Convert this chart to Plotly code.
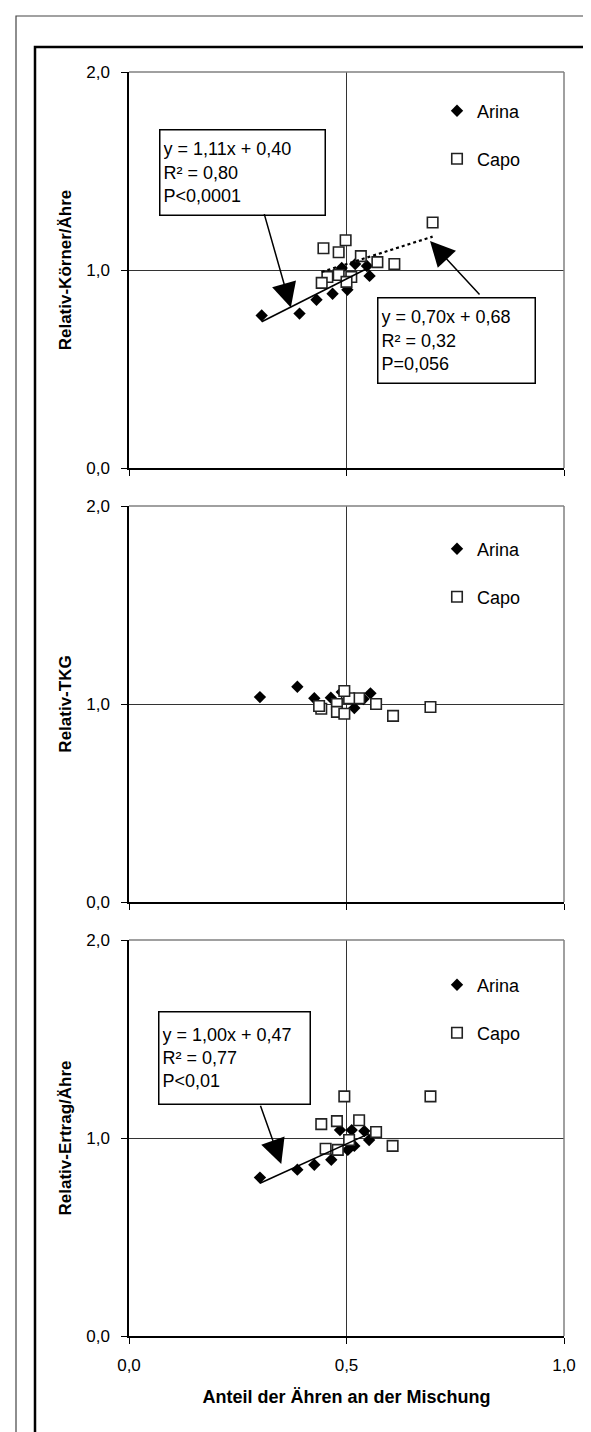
import plotly.graph_objects as go

# ---------------- data ----------------
series_names = ["Arina", "Capo"]

# Panel 1: Relativ-Körner/Ähre
kor_arina_x = [0.305, 0.392, 0.431, 0.468, 0.502, 0.489, 0.520, 0.547, 0.553]
kor_arina_y = [0.77, 0.78, 0.85, 0.88, 0.90, 1.01, 1.03, 1.02, 0.97]
kor_capo_x = [0.698, 0.498, 0.447, 0.482, 0.533, 0.571, 0.610, 0.456, 0.482, 0.511, 0.443, 0.500]
kor_capo_y = [1.24, 1.15, 1.11, 1.09, 1.07, 1.04, 1.03, 0.965, 0.975, 0.965, 0.935, 0.94]

# Panel 2: Relativ-TKG
tkg_arina_x = [0.301, 0.387, 0.426, 0.464, 0.489, 0.518, 0.555, 0.539]
tkg_arina_y = [1.035, 1.087, 1.029, 1.032, 1.06, 0.98, 1.054, 1.025]
tkg_capo_x = [0.693, 0.607, 0.568, 0.529, 0.506, 0.495, 0.478, 0.478, 0.495, 0.442, 0.437]
tkg_capo_y = [0.985, 0.94, 1.00, 1.029, 1.029, 1.066, 1.00, 0.96, 0.951, 0.976, 0.99]

# Panel 3: Relativ-Ertrag/Ähre
ert_arina_x = [0.301, 0.387, 0.426, 0.465, 0.503, 0.518, 0.485, 0.512, 0.541, 0.552]
ert_arina_y = [0.80, 0.84, 0.865, 0.89, 0.94, 0.96, 1.04, 1.04, 1.035, 0.99]
ert_capo_x = [0.495, 0.693, 0.442, 0.478, 0.529, 0.568, 0.606, 0.506, 0.452, 0.480]
ert_capo_y = [1.21, 1.21, 1.07, 1.085, 1.09, 1.03, 0.96, 0.99, 0.946, 0.94]

# regression coefficients shown in the chart (slope, intercept)
fit_kor_arina = [1.11, 0.40]
fit_kor_capo = [0.70, 0.68]
fit_ert_arina = [1.00, 0.47]

fit_text_kor_arina = "y = 1,11x + 0,40<br>R² = 0,80<br>P&lt;0,0001"
fit_text_kor_capo = "y = 0,70x + 0,68<br>R² = 0,32<br>P=0,056"
fit_text_ert_arina = "y = 1,00x + 0,47<br>R² = 0,77<br>P&lt;0,01"

y_tick_vals = [0, 1, 2]
y_tick_text = ["0,0", "1,0", "2,0"]
x_tick_vals = [0, 0.5, 1]
x_tick_text = ["0,0", "0,5", "1,0"]
y_titles = ["Relativ-Körner/Ähre", "Relativ-TKG", "Relativ-Ertrag/Ähre"]
x_title = "Anteil der Ähren an der Mischung"

# ---------------- layout geometry ----------------
W, H = 591, 1432
ML, MR, MT, MB = 121, 35, 64, 104
PW, PH = W - ML - MR, H - MT - MB
panel_h, gap = 396, 38

def px_x(px):
    return (px - ML) / PW

def px_y(py):
    return (H - MB - py) / PH

FONT = "Liberation Sans, Arial, sans-serif"

fig = go.Figure()

panels = [
    (kor_arina_x, kor_arina_y, kor_capo_x, kor_capo_y),
    (tkg_arina_x, tkg_arina_y, tkg_capo_x, tkg_capo_y),
    (ert_arina_x, ert_arina_y, ert_capo_x, ert_capo_y),
]
legend_rows = [(103, 151), (541, 589), (977, 1025)]

layout = dict(
    width=W, height=H,
    margin=dict(l=ML, r=MR, t=MT, b=MB),
    paper_bgcolor="white", plot_bgcolor="white",
    font=dict(family=FONT, size=17, color="black"),
    showlegend=True,
)
shapes = []
annotations = []

for i, (ax_, ay_, cx_, cy_) in enumerate(panels):
    s = "" if i == 0 else str(i + 1)
    top = MT + i * (panel_h + gap)
    bot = top + panel_h
    dom = [px_y(bot), px_y(top)]
    leg_a = "legend" if i == 0 else f"legend{2 * i + 1}"
    leg_c = f"legend{2 * i + 2}"

    fig.add_trace(go.Scatter(
        x=ax_, y=ay_, mode="markers", name=series_names[0],
        xaxis="x" + s, yaxis="y" + s, legend=leg_a,
        marker=dict(symbol="diamond", size=9.5, color="black",
                    line=dict(width=0)),
    ))
    fig.add_trace(go.Scatter(
        x=cx_, y=cy_, mode="markers", name=series_names[1],
        xaxis="x" + s, yaxis="y" + s, legend=leg_c,
        marker=dict(symbol="square", size=10.5, color="white",
                    line=dict(width=1.6, color="#222222")),
    ))

    layout["xaxis" + s] = dict(
        domain=[0, 1], range=[0, 1], anchor="y" + s,
        tickvals=x_tick_vals, ticktext=x_tick_text,
        showticklabels=(i == 2), ticks="outside", ticklen=6,
        tickwidth=1.2, tickcolor="black",
        showline=True, linecolor="black", linewidth=1.5,
        showgrid=True, gridcolor="#333333", gridwidth=1,
        zeroline=False, ticklabelstandoff=7,
        tickfont=dict(size=17),
    )
    if i == 2:
        layout["xaxis" + s]["title"] = dict(
            text="<b>" + x_title + "</b>", font=dict(size=18), standoff=16)
    layout["yaxis" + s] = dict(
        domain=dom, range=[0, 2], anchor="x" + s,
        tickvals=y_tick_vals, ticktext=y_tick_text,
        ticks="outside", ticklen=6, tickwidth=1.2, tickcolor="black",
        showline=True, linecolor="black", linewidth=1.5,
        showgrid=True, gridcolor="#333333", gridwidth=1,
        zeroline=False, ticklabelstandoff=8,
        tickfont=dict(size=17),
        title=dict(text="<b>" + y_titles[i] + "</b>", font=dict(size=17),
                   standoff=10),
    )
    # gray plot-area border on top and right
    for (x0, y0, x1, y1) in [(0, 1, 1, 1), (1, 0, 1, 1)]:
        shapes.append(dict(type="line", xref=f"x{s} domain", yref=f"y{s} domain",
                           x0=x0, y0=y0, x1=x1, y1=y1,
                           line=dict(color="#808080", width=1.5), layer="above"))

    ya, yc = legend_rows[i]
    for leg, yy in [(leg_a, ya), (leg_c, yc)]:
        layout[leg] = dict(
            x=px_x(455 - 26), y=px_y(yy), xanchor="left", yanchor="middle",
            bgcolor="rgba(0,0,0,0)", borderwidth=0,
            font=dict(size=18, family=FONT), itemclick=False,
        )

# trend lines (from the printed regression equations)
def add_fit(xs, coef, s, dash):
    x0, x1 = min(xs), max(xs)
    fig.add_trace(go.Scatter(
        x=[x0, x1], y=[coef[0] * x0 + coef[1], coef[0] * x1 + coef[1]],
        mode="lines", xaxis="x" + s, yaxis="y" + s, showlegend=False,
        line=dict(color="black", width=1.6 if dash == "solid" else 2.2, dash=dash),
        hoverinfo="skip",
    ))

add_fit(kor_arina_x, fit_kor_arina, "", "solid")
add_fit(kor_capo_x, fit_kor_capo, "", "dot")
add_fit(ert_arina_x, fit_ert_arina, "3", "solid")

# equation boxes
def add_box(text, s, x, y, w, h):
    annotations.append(dict(
        text=text, xref="x" + s, yref="y" + s, x=x, y=y,
        xanchor="left", yanchor="top", align="left", valign="middle",
        width=w, height=h, showarrow=False,
        bordercolor="black", borderwidth=1.5, borderpad=3, bgcolor="white",
        font=dict(size=18, family=FONT),
    ))

def add_arrow(s, tip, tail):
    annotations.append(dict(
        text="", xref="x" + s, yref="y" + s, x=tip[0], y=tip[1],
        axref="x" + s, ayref="y" + s, ax=tail[0], ay=tail[1],
        showarrow=True, arrowhead=2, arrowsize=3.3, arrowwidth=1.5,
        arrowcolor="black", standoff=0,
    ))

add_box(fit_text_kor_arina, "", 0.069, 1.712, 158, 78)
add_box(fit_text_kor_capo, "", 0.570, 0.864, 150, 78)
add_box(fit_text_ert_arina, "3", 0.067, 1.641, 144, 85)

add_arrow("", (0.372, 0.81), (0.31, 1.29))
add_arrow("", (0.692, 1.146), (0.809, 0.869))
add_arrow("3", (0.350, 0.869), (0.301, 1.17))

# outer frames
shapes.append(dict(type="rect", xref="paper", yref="paper",
                   x0=px_x(8), y0=px_y(1445), x1=px_x(600), y1=px_y(8),
                   line=dict(color="#444444", width=1.2), layer="below"))
shapes.append(dict(type="rect", xref="paper", yref="paper",
                   x0=px_x(27), y0=px_y(1440), x1=px_x(583), y1=px_y(39),
                   line=dict(color="black", width=2.5), layer="below"))

layout["shapes"] = shapes
layout["annotations"] = annotations
fig.update_layout(**layout)

fig.write_html("out.html")
